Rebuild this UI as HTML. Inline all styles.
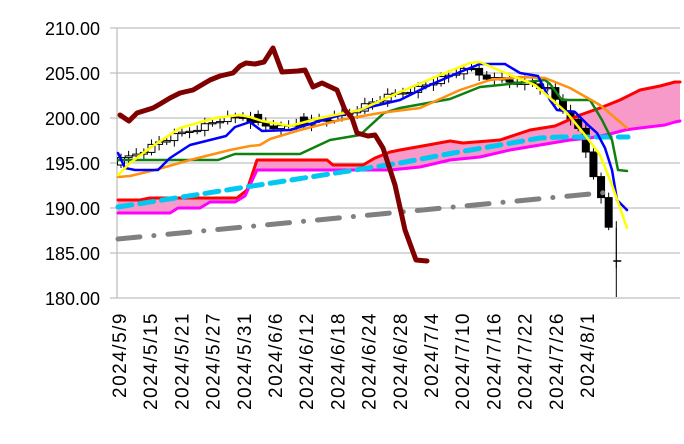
<!DOCTYPE html><html><head><meta charset="utf-8"><style>
body{margin:0;background:#fff;width:684px;height:439px;overflow:hidden;font-family:"Liberation Sans",sans-serif}
</style></head><body>
<svg id="s" width="684" height="439" xmlns="http://www.w3.org/2000/svg">
<g stroke="#c0c0c0" stroke-width="1.3">
<line x1="110" x2="680" y1="28" y2="28"/><line x1="110" x2="680" y1="73" y2="73"/><line x1="110" x2="680" y1="118" y2="118"/><line x1="110" x2="680" y1="163" y2="163"/><line x1="110" x2="680" y1="208" y2="208"/><line x1="110" x2="680" y1="253" y2="253"/><line x1="110" x2="680" y1="298" y2="298"/>
<line x1="117" x2="117" y1="28" y2="298"/>
</g>
<g font-size="18" text-anchor="end" fill="#000">
<text x="100" y="35">210.00</text><text x="100" y="80">205.00</text><text x="100" y="125">200.00</text><text x="100" y="170">195.00</text><text x="100" y="215">190.00</text><text x="100" y="260">185.00</text><text x="100" y="305">180.00</text>
</g>
<g id="xl" font-size="19" letter-spacing="1.5" text-anchor="end"></g>
<g id="cloud"></g>
<g id="cd"></g>
<g id="ln" fill="none" stroke-linejoin="round" stroke-linecap="round"></g>
</svg>
<script>
const NS="http://www.w3.org/2000/svg";
function el(p,t,a){const e=document.createElementNS(NS,t);for(const k in a)e.setAttribute(k,a[k]);document.getElementById(p).appendChild(e);return e;}
const labs=["2024/5/9","2024/5/15","2024/5/21","2024/5/27","2024/5/31","2024/6/6","2024/6/12","2024/6/18","2024/6/24","2024/6/28","2024/7/4","2024/7/10","2024/7/16","2024/7/22","2024/7/26","2024/8/1"];
labs.forEach((l,i)=>{const x=119+31.2*i+7;const t=el("xl","text",{transform:`translate(${x},312) rotate(-90)`});t.textContent=l;});
function pts(a){return a.map(p=>p.join(",")).join(" ");}
const red=[[118,200],[140,200],[150,198],[175,198],[237,198],[247,190],[257,160],[327,160],[333,165],[363,165],[375,158],[390,152],[400,150],[428,145],[450,141],[463,143],[500,140],[530,130],[555,126],[580,115],[600,108],[620,100],[640,90],[660,86],[675,82],[680,82]];
const mag=[[118,213],[170,213],[178,208],[200,208],[210,202],[235,202],[245,196],[257,170],[390,170],[420,167],[450,160],[480,157],[510,150],[540,145],[570,140],[590,138],[610,134],[625,130],[640,128],[665,125],[675,122],[680,121]];
el("cloud","polygon",{points:pts(red.concat(mag.slice().reverse())),fill:"#f799c9"});
const key=[[0,160],[3,150],[5,142],[8,133],[10,128],[13,120],[16,117],[18,124],[19,126],[21,128],[23,124],[26,120],[28,118],[30,112],[33,102],[36,94],[39,88],[41,82],[44,73],[45,66],[46,70],[47,75],[49,80],[52,82],[54,84],[56,90],[57,100],[58,110],[59,117],[60,130],[61,152],[62,175],[63,200],[64,228],[65,261]];
function ip(i){for(let k=0;k<key.length-1;k++){if(i>=key[k][0]&&i<=key[k+1][0]){const t=(i-key[k][0])/(key[k+1][0]-key[k][0]);return key[k][1]+t*(key[k+1][1]-key[k][1]);}}return key[key.length-1][1];}
let prev=165;
for(let i=0;i<=65;i++){const x=121+7.62*i;let c=ip(i)+((i*37)%7-3)*0.8;let o=prev;if(i==18||i==24)o=c-8;
const up=c<o;const top=Math.min(o,c),bot=Math.max(o,c);
el("cd","line",{x1:x,x2:x,y1:top-4-(i%3),y2:bot+3+(i%2)*3,stroke:"#000","stroke-width":1});
if(i==65){el("cd","line",{x1:x-3,x2:x+5,y1:261,y2:261,stroke:"#000","stroke-width":1.5});el("cd","line",{x1:x,x2:x,y1:228,y2:297,stroke:"#000","stroke-width":1});}
else el("cd","rect",{x:x-3.5,y:top,width:7,height:Math.max(bot-top,1.2),fill:up?"#fff":"#000",stroke:"#000","stroke-width":1});
prev=c;}
function pl(a,c,w,d){const e=el("ln","polyline",{points:pts(a),stroke:c,"stroke-width":w});if(d)e.setAttribute("stroke-dasharray",d);}
pl(red,"#ff0000",3);pl(mag,"#ff00ff",3);
pl([[118,239],[611,192]],"#808080",5,"22 14 0.1 14");
pl([[118,207],[400,163],[453,153],[500,145],[540,138],[560,137],[628,137]],"#00c8f0",5,"14 8");
pl([[118,160],[218,160],[235,154],[300,154],[330,140],[360,135],[384,113],[400,108],[450,99],[480,87],[500,85],[545,80],[550,84],[562,100],[590,100],[602,120],[612,140],[618,170],[627,171]],"#108010",2.5);
pl([[118,177],[130,176],[155,170],[190,160],[210,155],[230,150],[250,146],[260,145],[270,139],[300,130],[340,120],[380,113],[420,108],[460,90],[490,80],[520,77],[545,78],[570,88],[600,105],[627,128]],"#ff9010",2.5);
pl([[118,153],[125,168],[135,170],[158,170],[170,158],[190,145],[210,140],[226,136],[235,127],[250,122],[262,131],[290,130],[330,118],[370,107],[400,100],[430,85],[460,72],[480,64],[505,64],[520,73],[538,76],[550,100],[557,110],[575,112],[588,125],[597,133],[605,148],[612,170],[617,200],[627,210]],"#0000ff",2.5);
pl([[118,175],[130,163],[150,148],[180,128],[215,118],[240,115],[250,117],[262,121],[290,126],[320,118],[360,110],[400,92],[440,75],[470,63],[480,62],[510,75],[535,85],[550,98],[567,113],[585,135],[600,155],[612,185],[627,228]],"#ffff00",2.5);
pl([[120,115],[129,121],[137,113],[153,108],[160,104],[170,98],[180,93],[193,90],[210,80],[220,76],[233,73],[240,66],[246,63],[255,64],[264,62],[273,48],[282,72],[298,71],[305,70],[313,87],[322,83],[337,90],[345,110],[352,118],[357,133],[368,136],[375,135],[383,148],[395,185],[405,230],[416,260],[427,261]],"#800000",5);
</script>
</body></html>
